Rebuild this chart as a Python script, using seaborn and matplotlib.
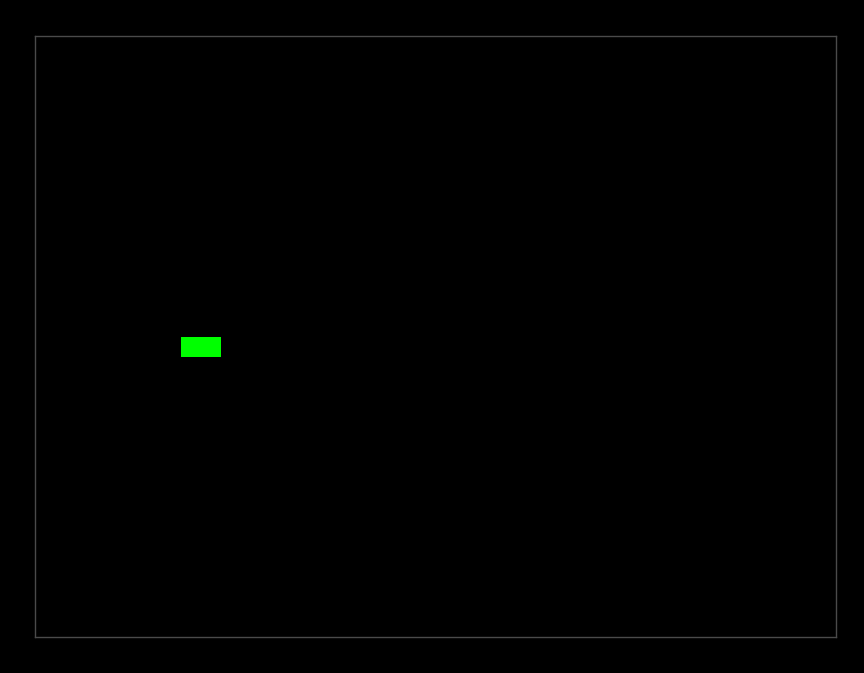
import matplotlib

matplotlib.use("Agg")
import matplotlib.pyplot as plt
import seaborn as sns

# scene is 800 x 600 units, origin top-left
scene_w = 800
scene_h = 600
box_left = [146]
box_top = [300]
box_width = [40]
box_height = [20]

sns.set_theme(style="dark")
plt.rcParams["font.family"] = ["DejaVu Sans"]

fig = plt.figure(figsize=(8.64, 6.73), dpi=100, facecolor="#000000")
ax = fig.add_axes([35 / 864, 36 / 673, 800.5 / 864, 601 / 673])
ax.set_facecolor("#000000")

ax.barh(
    [t + h / 2 for t, h in zip(box_top, box_height)],
    box_width,
    left=box_left,
    height=box_height,
    color="#00ff00",
    edgecolor="none",
)

ax.set_xlim(0, scene_w)
ax.set_ylim(scene_h, 0)
ax.set_xticks([])
ax.set_yticks([])
ax.grid(False)
for spine in ax.spines.values():
    spine.set_visible(True)
    spine.set_color("#4a4a4a")
    spine.set_linewidth(1)

fig.savefig("out.png", dpi=100, facecolor=fig.get_facecolor())
